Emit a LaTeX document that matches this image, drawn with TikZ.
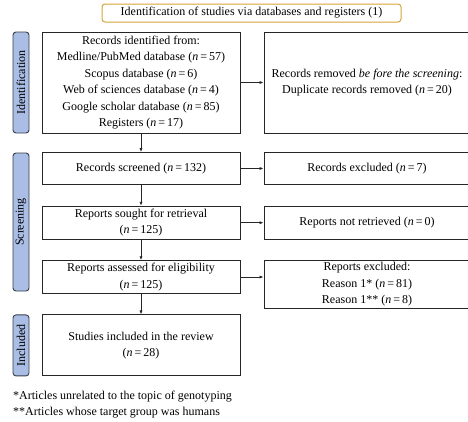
\documentclass[tikz,border=0pt]{standalone}
\usepackage{fontspec}
\setmainfont{Liberation Serif}
\usetikzlibrary{arrows.meta}
\definecolor{headgold}{HTML}{D4A43A}
\definecolor{barblue}{HTML}{A9BDE5}
\definecolor{bardark}{HTML}{3A3F4A}
\newcommand{\nn}[1]{(\textit{n}\,=\,#1)}
\begin{document}
\begin{tikzpicture}[
            x=1pt, y=-1pt,
            box/.style={draw=black!85, line width=0.9pt, align=center, inner sep=2pt,
                font=\fontsize{12}{16.4}\selectfont},
            phase/.style={draw=bardark, fill=barblue, line width=0.9pt, rounded corners=3pt,
                rotate=90, minimum height=16pt, inner sep=0pt, font=\fontsize{12}{12}\selectfont},
            flow/.style={-{Latex[length=4pt,width=3.2pt]}, line width=0.8pt, black!85},
        ]
            \path[use as bounding box, clip] (0, 0) rectangle (468, 421);
            % header
            \node[draw=headgold, line width=1pt, rounded corners=3pt, minimum width=299pt,
                minimum height=18pt, font=\fontsize{12}{12}\selectfont] (head) at (251.5, 13)
                {Identification of studies via databases and registers (1)};
            % phase bars
            \node[phase, minimum width=101pt] (idbar) at (21, 82.5) {Identification};
            \node[phase, minimum width=138pt] (scrbar) at (21, 222) {Screening};
            \node[phase, minimum width=61pt] (incbar) at (21, 345.4) {Included};
            % left column
            \node[box, minimum width=198pt, minimum height=101pt] (ident) at (141, 82.5)
                {Records identified from:\\ Medline/PubMed database \nn{57}\\
                Scopus database \nn{6}\\ Web of sciences database \nn{4}\\
                Google scholar database \nn{85}\\ Registers \nn{17}};
            \node[box, minimum width=198pt, minimum height=32pt] (screened) at (141, 168.5)
                {Records screened \nn{132}};
            \node[box, minimum width=198pt, minimum height=33pt] (sought) at (141, 222.7)
                {Reports sought for retrieval\\ \nn{125}};
            \node[box, minimum width=198pt, minimum height=32.6pt] (assessed) at (141, 277)
                {Reports assessed for eligibility\\ \nn{125}};
            \node[box, minimum width=198pt, minimum height=61pt] (included) at (141, 345.4)
                {Studies included in the review\\ \nn{28}};
            % right column
            \node[box, minimum width=206pt, minimum height=101pt] (removed) at (367, 82.5)
                {Records removed \textit{be fore the screening}:\\ Duplicate records removed \nn{20}};
            \node[box, minimum width=206pt, minimum height=32pt] (excluded) at (367, 168.5)
                {Records excluded \nn{7}};
            \node[box, minimum width=206pt, minimum height=33pt] (notret) at (367, 222.7)
                {Reports not retrieved \nn{0}};
            \node[box, minimum width=206pt, minimum height=47pt] (rexcl) at (367, 284.2)
                {Reports excluded:\\ Reason 1* \nn{81}\\ Reason 1** \nn{8}};
            % arrows
            \draw[flow] (ident) -- (screened);
            \draw[flow] (screened) -- (sought);
            \draw[flow] (sought) -- (assessed);
            \draw[flow] (assessed) -- (included);
            \draw[flow] (ident) -- (removed);
            \draw[flow] (screened) -- (excluded);
            \draw[flow] (sought) -- (notret);
            \draw[flow] (assessed.east) -- (assessed.east -| rexcl.west);
            % notes
            \node[anchor=west, inner sep=0pt, font=\fontsize{12}{12}\selectfont] (note1) at (13, 397)
                {*Articles unrelated to the topic of genotyping};
            \node[anchor=west, inner sep=0pt, font=\fontsize{12}{12}\selectfont] (note2) at (13, 413)
                {**Articles whose target group was humans};
        \end{tikzpicture}
\end{document}
